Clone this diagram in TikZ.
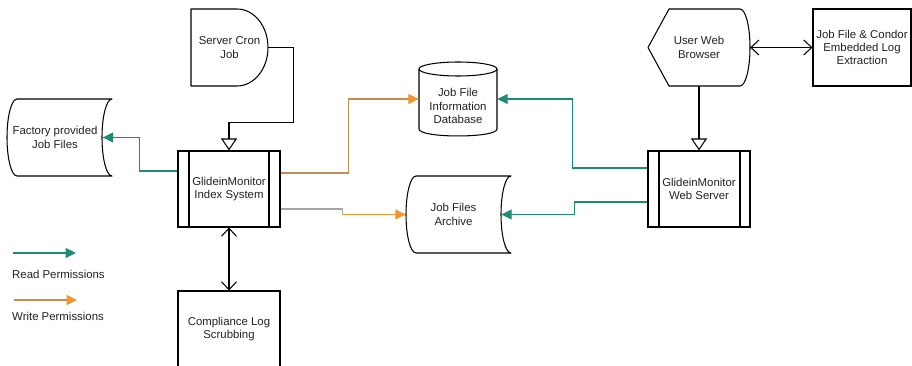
\documentclass[tikz,border=0pt]{standalone}
\usepackage{fontspec}
\setmainfont{Liberation Sans}
\usetikzlibrary{arrows.meta,calc}
\definecolor{readc}{HTML}{1E8C74}
\definecolor{writec}{HTML}{F0952F}
\definecolor{writeline}{HTML}{C68C55}
\definecolor{txt}{HTML}{222222}
\newcommand{\stordat}[5]{% x0 x1 top bot d
 \draw[shapeline] ({#1+#5},#3) -- ({#2},#3)
   .. controls ({#2-0.5523*#5},#3) and ({#2-#5},{(#3+#4)/2-0.5523*(#4-#3)/2}) .. ({#2-#5},{(#3+#4)/2})
   .. controls ({#2-#5},{(#3+#4)/2+0.5523*(#4-#3)/2}) and ({#2-0.5523*#5},#4) .. ({#2},#4)
   -- ({#1+#5},#4)
   .. controls ({#1+#5-0.5523*#5},#4) and ({#1},{(#3+#4)/2+0.5523*(#4-#3)/2}) .. ({#1},{(#3+#4)/2})
   .. controls ({#1},{(#3+#4)/2-0.5523*(#4-#3)/2}) and ({#1+#5-0.5523*#5},#3) .. cycle;}
\begin{document}
\begin{tikzpicture}[x=1pt,y=-1pt,
  shapeline/.style={draw=black, line width=1.05pt, line join=round},
  lbl/.style={font=\fontsize{11.4}{13.4}\selectfont, text=txt, align=center, inner sep=0pt},
  box/.style={lbl, draw=black, line width=1.05pt},
  readarrow/.style={draw=readc, line width=1.2pt, -{Triangle[length=10.5pt,width=10pt,color=readc,fill=readc]}},
  writearrow/.style={draw=writeline, line width=1.2pt, -{Triangle[length=10.5pt,width=10pt,color=writec,fill=writec]}},
  opentri/.style={draw=black, line width=1.05pt, -{Triangle[open,length=12pt,width=16pt,fill=white]}},
  twoway/.style={draw=black, line width=1.05pt, {Straight Barb[length=8pt,width=15pt]}-{Straight Barb[length=8pt,width=15pt]}}]
\useasboundingbox (0,0) rectangle (912,366);
\clip (0,0) rectangle (912,366);
\fill[white] (0,0) rectangle (912,366);

% Factory provided Job Files (stored data)
\stordat{7}{112}{99}{176}{10}
\node[lbl, minimum width=95pt, minimum height=77pt] (factory) at (55,137.5) {Factory provided\\Job Files};

% Server Cron Job (delay)
\draw[shapeline] (191,9) -- (237,9) .. controls (254.1,9) and (268,26.2) .. (268,47.5)
   .. controls (268,68.8) and (254.1,86) .. (237,86) -- (191,86) -- cycle;
\node[lbl, minimum width=77pt, minimum height=77pt] (cron) at (229.5,47.5) {Server Cron\\Job};

% GlideinMonitor Index System
\node[box, minimum width=102pt, minimum height=76pt] (index) at (229,189) {GlideinMonitor\\Index System};
\draw[shapeline] (189,151) -- (189,227) (269,151) -- (269,227);

% Compliance Log Scrubbing
\node[box, minimum width=102pt, minimum height=76pt] (comp) at (229,329) {Compliance Log\\Scrubbing};

% Job File Information Database (cylinder)
\node[minimum width=78pt, minimum height=74pt, inner sep=0pt] (db) at (458,99) {};
\draw[shapeline, fill=white] (419,69) -- (419,129) .. controls (419,138.3) and (497,138.3) .. (497,129) -- (497,69);
\draw[shapeline] (458,69) ellipse [x radius=39, y radius=7];
\node[lbl] (dbtext) at (458,106) {Job File\\Information\\Database};

% Job Files Archive (stored data)
\stordat{406}{511}{176}{253}{10}
\node[lbl, minimum width=95pt, minimum height=77pt] (archive) at (453.5,214.5) {Job Files\\Archive};

% GlideinMonitor Web Server
\node[box, minimum width=102pt, minimum height=76pt] (web) at (699,189) {GlideinMonitor\\Web Server};
\draw[shapeline] (659,151) -- (659,227) (740,151) -- (740,227);

% User Web Browser (display)
\draw[shapeline] (648,47.5) -- (669,9) -- (740,9) .. controls (745.5,9) and (750,26.2) .. (750,47.5)
   .. controls (750,68.8) and (745.5,86) .. (740,86) -- (669,86) -- cycle;
\node[lbl, minimum width=102pt, minimum height=77pt] (browser) at (699,47.5) {User Web\\Browser};

% Job File & Condor Embedded Log Extraction
\node[box, minimum width=98pt, minimum height=77pt] (condor) at (862,47.5) {Job File \& Condor\\Embedded Log\\Extraction};

% connectors
\draw[opentri] (cron.east) -- ++(25,0) |- ($(index.north)+(0,-28)$) -- (index.north);
\draw[twoway] (index.south) -- (comp.north);
\draw[readarrow] (index.west |- 0,171) -| ($(factory.east)+(37,0)$) -- (factory.east);
\draw[writearrow] (index.east |- 0,173) -| ($(db.west)+(-70,0)$) -- (db.west);
\draw[draw=gray!70, line width=1.2pt] (index.east |- 0,209) -| ($(archive.west)+(-63,0)$);
\draw[writearrow, draw=writec] ($(archive.west)+(-63,0)$) -- (archive.west);
\draw[readarrow] (web.west |- 0,168) -| ($(db.east)+(75,0)$) -- (db.east);
\draw[readarrow] (web.west |- 0,202) -| ($(archive.east)+(73,0)$) -- (archive.east);
\draw[opentri] (browser.south) -- (web.north);
\draw[twoway] (browser.east) -- (condor.west);

% legend
\coordinate (rs) at (13,253);
\coordinate (re) at (76,253);
\draw[readarrow] (rs) -- (re);
\node[lbl, anchor=west] (readlbl) at (12,274) {Read Permissions};
\coordinate (ws) at (14,300);
\coordinate (we) at (77,300);
\draw[writearrow] (ws) -- (we);
\node[lbl, anchor=west] (writelbl) at (12,316) {Write Permissions};
\end{tikzpicture}
\end{document}
